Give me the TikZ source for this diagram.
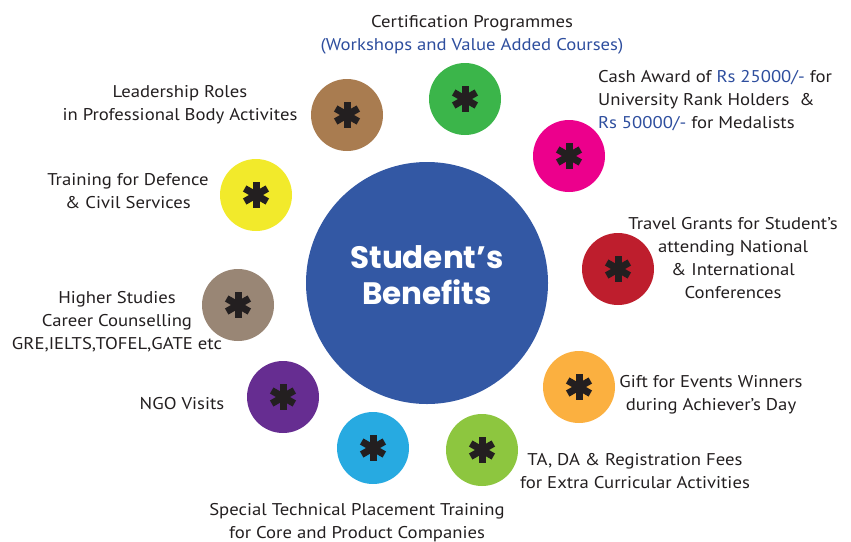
\documentclass[tikz,border=0pt]{standalone}
\usepackage{fontspec}
\setmainfont{PT Sans}[FakeStretch=1.1]
\newfontfamily\popfont{Poppins}
\definecolor{txt}{HTML}{231F20}
\definecolor{bluetxt}{HTML}{2E4E9E}
\definecolor{cblue}{HTML}{3358A4}
\definecolor{cgreen}{HTML}{3BB54A}
\definecolor{cpink}{HTML}{EC008C}
\definecolor{cbrown}{HTML}{A97C50}
\definecolor{cyellow}{HTML}{F2EA2B}
\definecolor{ctaupe}{HTML}{998675}
\definecolor{cred}{HTML}{BE1E2D}
\definecolor{cpurple}{HTML}{662D91}
\definecolor{ccyan}{HTML}{27AAE1}
\definecolor{clime}{HTML}{8DC63F}
\definecolor{corange}{HTML}{FBB040}
\tikzset{
  bub/.style={circle, minimum size=72pt, inner sep=0pt, draw=none},
  lbl/.style={text=txt, align=center, inner sep=0pt, font=\fontsize{17}{23}\selectfont},
  ast/.pic={
    \draw[line width=7pt, txt] (0,-13) -- (0,13);
    \draw[line width=7pt, txt] (-11.3,-6.5) -- (11.3,6.5);
    \draw[line width=7pt, txt] (-11.3,6.5) -- (11.3,-6.5);
  }
}
\begin{document}
\begin{tikzpicture}[x=1pt,y=-1pt]
\useasboundingbox (0,0) rectangle (851,541);
% central
\node[circle, minimum size=242pt, inner sep=0pt, fill=cblue] (center) at (427,283) {};
\node[text=white, align=center, inner sep=0pt,
  font=\popfont\bfseries\fontsize{31}{36}\selectfont] (ctext) at (427,275) {Student’s\\Benefits};
% bubbles
\node[bub, fill=cgreen]  (b1)  at (465,99)  {}; \pic at (b1) {ast};
\node[bub, fill=cpink]   (b2)  at (569,156) {}; \pic at (b2) {ast};
\node[bub, fill=cbrown]  (b3)  at (347,115) {}; \pic at (b3) {ast};
\node[bub, fill=cyellow] (b4)  at (256,195) {}; \pic at (b4) {ast};
\node[bub, fill=cred]    (b5)  at (618,269) {}; \pic at (b5) {ast};
\node[bub, fill=ctaupe]  (b6)  at (238,305) {}; \pic at (b6) {ast};
\node[bub, fill=cpurple] (b7)  at (283,397) {}; \pic at (b7) {ast};
\node[bub, fill=corange] (b8)  at (579,387) {}; \pic at (b8) {ast};
\node[bub, fill=ccyan]   (b9)  at (373,448) {}; \pic at (b9) {ast};
\node[bub, fill=clime]   (b10) at (482,450) {}; \pic at (b10) {ast};
% labels
\node[lbl] (l1) at (472,35) {Certification Programmes\\\textcolor{bluetxt}{(Workshops and Value Added Courses)}};
\node[lbl, anchor=west, align=left] (l2) at (598,101) {Cash Award of \textcolor{bluetxt}{Rs 25000/-} for\\University Rank Holders\ \ \&\\\textcolor{bluetxt}{Rs 50000/-} for Medalists};
\node[lbl] (l3) at (180,105) {Leadership Roles\\in Professional Body Activites};
\node[lbl] (l4) at (128,191) {Training for Defence\\\& Civil Services};
\node[lbl] (l5) at (733,258) {Travel Grants for Student’s\\attending National\\\& International\\Conferences};
\node[lbl] (l6) at (117,322) {Higher Studies\\Career Counselling\\GRE,IELTS,TOFEL,GATE etc};
\node[lbl] (l7) at (182,404) {NGO Visits};
\node[lbl] (l8) at (711,395) {Gift for Events Winners\\during Achiever’s Day};
\node[lbl] (l9) at (635,471) {TA, DA \& Registration Fees\\for Extra Curricular Activities};
\node[lbl] (l10) at (357,523) {Special Technical Placement Training\\for Core and Product Companies};
\end{tikzpicture}
\end{document}
